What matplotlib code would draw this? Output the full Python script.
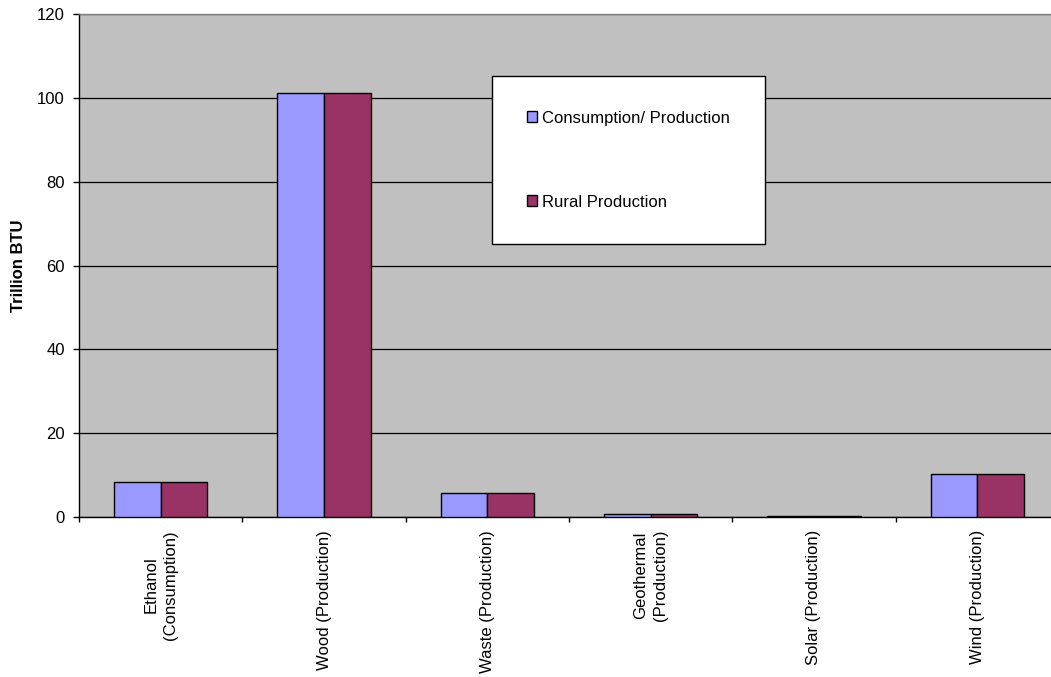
import matplotlib
matplotlib.use("Agg")
import matplotlib.pyplot as plt
import numpy as np
from matplotlib.patches import Patch

plt.rcParams['font.family'] = ['Liberation Sans', 'DejaVu Sans']

categories = ["Ethanol\n(Consumption)", "Wood (Production)", "Waste (Production)",
              "Geothermal\n(Production)", "Solar (Production)", "Wind (Production)"]
consumption = [8.3, 101.3, 5.6, 0.7, 0.2, 10.3]
rural = [8.3, 101.3, 5.6, 0.7, 0.15, 10.3]
series_names = ["Consumption/ Production", "Rural Production"]
colors = ["#9999FF", "#993366"]
yticks = [0, 20, 40, 60, 80, 100, 120]

W, H = 1051, 677
fig = plt.figure(figsize=(W / 100, H / 100), dpi=100)
fig.patch.set_facecolor("white")
left, right, top, bottom = 79, 1059, 14.3, 516.7
ax = fig.add_axes([left / W, (H - bottom) / H, (right - left) / W, (bottom - top) / H])
ax.set_facecolor("#C0C0C0")

n = len(categories)
x = np.arange(n)
bw = 1 / 3.5
ax.bar(x - bw / 2, consumption, width=bw, color=colors[0], edgecolor="black", linewidth=1.0, zorder=3)
ax.bar(x + bw / 2, rural, width=bw, color=colors[1], edgecolor="black", linewidth=1.0, zorder=3)

ax.set_xlim(-0.5, n - 0.5)
ax.set_ylim(0, 120)
ax.set_yticks(yticks)
ax.set_yticklabels([str(v) for v in yticks], fontsize=12)
ax.yaxis.grid(True, color="black", linewidth=0.9, zorder=1)
ax.set_axisbelow(True)
ax.tick_params(axis="y", length=4.3, width=1, pad=5.8, color="black")

ax.set_xticks(x)
ax.set_xticklabels(categories, rotation=90, fontsize=12, va="top", ha="center",
                   linespacing=1.35)
ax.tick_params(axis="x", which="major", length=0, pad=9.5)
ax.set_xticks(np.arange(n + 1) - 0.5, minor=True)
ax.tick_params(axis="x", which="minor", length=3.6, width=1, color="black")

for s in ["left", "bottom"]:
    ax.spines[s].set_color("black")
    ax.spines[s].set_linewidth(1)
ax.spines["top"].set_color("#808080")
ax.spines["top"].set_linewidth(1)
ax.spines["right"].set_visible(False)

ax.set_ylabel("Trillion BTU", fontsize=12, fontweight="bold")
ax.yaxis.set_label_coords(-(79 - 26) / 980, 0.5)

handles = [Patch(facecolor=colors[0], edgecolor="black", linewidth=1),
           Patch(facecolor=colors[1], edgecolor="black", linewidth=1)]
leg = ax.legend(handles, series_names, loc="upper left",
                bbox_to_anchor=((492.3 - left) / 980, (bottom - 76) / 502.4),
                fontsize=12, frameon=True, fancybox=False, shadow=False,
                borderpad=2.08, labelspacing=4.14, handlelength=0.6, handleheight=0.6,
                handletextpad=0.3, borderaxespad=0)
leg.get_frame().set_edgecolor("black")
leg.get_frame().set_linewidth(1)
leg.get_frame().set_facecolor("white")
leg.get_frame().set_alpha(1)
leg.set_zorder(5)

fig.savefig("out.png", dpi=100)
